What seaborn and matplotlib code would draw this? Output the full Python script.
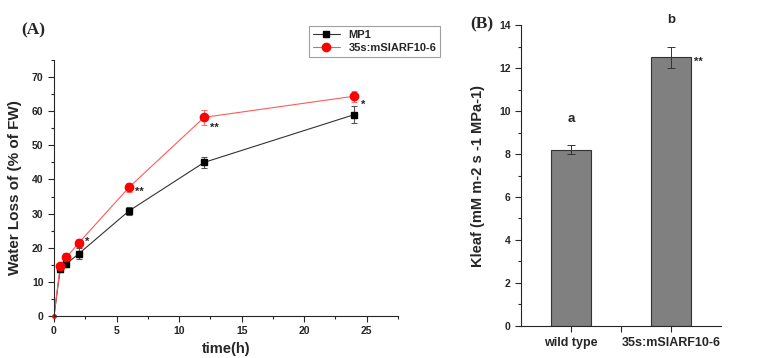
import numpy as np
import pandas as pd
import matplotlib
matplotlib.use("Agg")
import matplotlib.pyplot as plt
from matplotlib.ticker import AutoMinorLocator, MultipleLocator
from matplotlib.lines import Line2D
import seaborn as sns

sns.set_style("ticks")
plt.rcParams['font.family'] = ['Liberation Sans', 'DejaVu Sans']
plt.rcParams['font.weight'] = 'bold'

# panel A data
time_h = [0, 0.5, 1, 2, 6, 12, 24]
mp1_loss = [0, 13.8, 15.3, 18.3, 30.8, 45.0, 59.0]
mp1_err = [0, 1.0, 1.0, 1.5, 1.2, 1.7, 2.6]
arf_loss = [0, 14.6, 17.2, 21.5, 37.7, 58.2, 64.4]
arf_err = [0, 1.0, 1.2, 1.2, 1.3, 2.2, 1.6]
series_names = ['MP1', '35s:mSlARF10-6']

# panel B data
genotypes = ['wild type', '35s:mSlARF10-6']
kleaf = [8.2, 12.5]
kleaf_err = [0.2, 0.5]
letters = ['a', 'b']

df_a = pd.DataFrame({
    'time': time_h * 2,
    'loss': mp1_loss + arf_loss,
    'line': [series_names[0]] * len(time_h) + [series_names[1]] * len(time_h),
})
df_b = pd.DataFrame({'genotype': genotypes, 'kleaf': kleaf})

fig = plt.figure(figsize=(7.69, 3.58), dpi=100)
ax1 = fig.add_axes([0.0702, 0.1173, 0.4474, 0.7151])
ax2 = fig.add_axes([0.6775, 0.0902, 0.2601, 0.8391])

# --- Panel A
line_colors = {series_names[0]: '#333333', series_names[1]: '#ff5a5a'}
sns.lineplot(data=df_a, x='time', y='loss', hue='line', palette=line_colors,
             linewidth=0.8, ax=ax1, legend=False)
# the t=0 point is drawn as a tiny dot, the rest with full markers
ax1.errorbar(time_h[1:], mp1_loss[1:], yerr=mp1_err[1:], fmt='s', color='black',
             ms=5, ecolor='#555555', elinewidth=0.8, capsize=2, capthick=0.8)
ax1.errorbar(time_h[1:], arf_loss[1:], yerr=arf_err[1:], fmt='o', color='#ff0000',
             ms=6, ecolor='#ff7070', elinewidth=0.8, capsize=2, capthick=0.8)
ax1.plot(time_h[:1], arf_loss[:1], 'o', color='#ff0000', ms=2.5, clip_on=False)

ax1.set_xlim(0, 27.5)
ax1.set_ylim(0, 75)
ax1.xaxis.set_major_locator(MultipleLocator(5))
ax1.yaxis.set_major_locator(MultipleLocator(10))
ax1.xaxis.set_minor_locator(AutoMinorLocator(2))
ax1.yaxis.set_minor_locator(AutoMinorLocator(2))
ax1.tick_params(which='major', length=4, width=0.8, labelsize=7.5)
ax1.tick_params(which='minor', length=2.5, width=0.8)
ax1.set_xlabel('time(h)', fontsize=10.5, fontweight='bold', labelpad=4)
ax1.set_ylabel('Water Loss of (% of FW)', fontsize=11, fontweight='bold', labelpad=7)
for s in ['top', 'right']:
    ax1.spines[s].set_visible(False)
for s in ['left', 'bottom']:
    ax1.spines[s].set_linewidth(0.8)

stars_a = [(2, 21.5, '*', 0.5, 0.3), (6, 37.7, '**', 0.5, -1.2),
           (12, 58.2, '**', 0.5, -3.0), (24, 64.4, '*', 0.5, -2.5)]
for x, y, s, dx, dy in stars_a:
    ax1.text(x + dx, y + dy, s, fontsize=8, fontweight='bold', va='center')

handles = [Line2D([], [], color='#333333', marker='s', mfc='black', mec='black', ms=5, lw=0.8),
           Line2D([], [], color='#ff5a5a', marker='o', mfc='#ff0000', mec='#ff0000', ms=6, lw=0.8)]
leg = ax1.legend(handles, series_names, loc='upper left', bbox_to_anchor=(0.725, 1.155),
                 fontsize=8, frameon=True, fancybox=False, edgecolor='#888888',
                 borderpad=0.35, handlelength=2.4, labelspacing=0.3)
leg.get_frame().set_linewidth(0.8)
for t in leg.get_texts():
    t.set_fontweight('bold')

fig.text(0.028, 0.905, '(A)', fontsize=12.5, fontweight='bold', family='Liberation Serif')

# --- Panel B
sns.barplot(data=df_b, x='genotype', y='kleaf', color='#808080', width=0.4,
            edgecolor='#333333', linewidth=0.8, errorbar=None, ax=ax2, saturation=1)
ax2.errorbar(range(len(genotypes)), kleaf, yerr=kleaf_err, fmt='none', ecolor='#333333',
             elinewidth=0.7, capsize=3, capthick=0.7)
ax2.text(0, 9.65, letters[0], ha='center', va='center', fontsize=9.5, fontweight='bold')
ax2.text(1, 14.25, letters[1], ha='center', va='center', fontsize=9.5, fontweight='bold')
ax2.text(1.23, 12.3, '**', ha='left', va='center', fontsize=8, fontweight='bold')

ax2.set_xlim(-0.5, 1.5)
ax2.set_ylim(0, 14)
ax2.yaxis.set_major_locator(MultipleLocator(2))
ax2.yaxis.set_minor_locator(AutoMinorLocator(2))
ax2.set_xticks([0, 0.5, 1])
ax2.set_xticklabels([genotypes[0], '', genotypes[1]])
ax2.tick_params(which='major', length=4, width=0.8, labelsize=7.5)
ax2.tick_params(axis='x', labelsize=9, pad=4)
ax2.tick_params(which='minor', length=2.5, width=0.8)
ax2.set_xlabel('')
ax2.set_ylabel('Kleaf (mM m-2 s -1 MPa-1)', fontsize=10.5, fontweight='bold', labelpad=10)
for s in ['top', 'right']:
    ax2.spines[s].set_visible(False)
for s in ['left', 'bottom']:
    ax2.spines[s].set_linewidth(0.8)

fig.text(0.612, 0.92, '(B)', fontsize=12.5, fontweight='bold', family='Liberation Serif')

fig.savefig('out.png', dpi=100)
